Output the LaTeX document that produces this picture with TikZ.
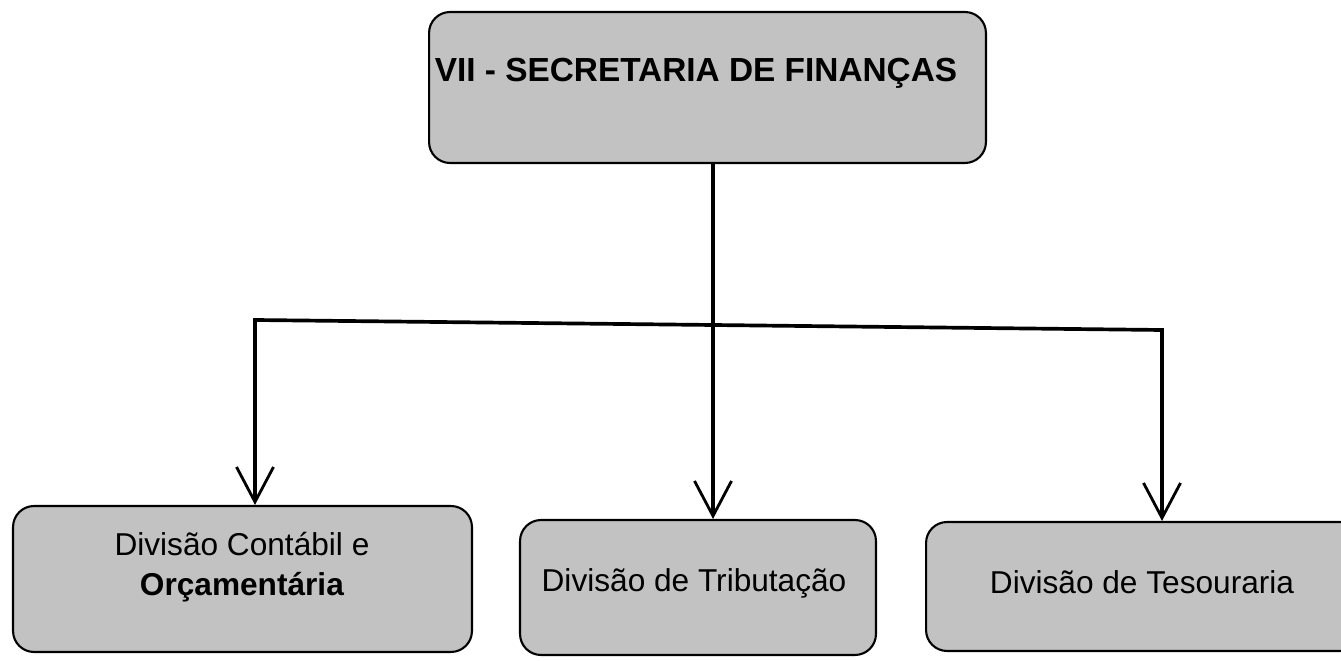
\documentclass[tikz,border=0pt]{standalone}
\usepackage{fontspec}
\setmainfont{Liberation Sans}
\usetikzlibrary{arrows.meta}
\definecolor{boxgray}{rgb}{0.76,0.76,0.76}
\tikzset{
  orgbox/.style={draw=black, line width=1.2pt, fill=boxgray, rounded corners=0.42cm, inner sep=0pt},
  conn/.style={line width=2.1pt, draw=black},
  arr/.style={conn, -{Straight Barb[length=0.7cm, width=0.74cm, line width=1.6pt]}},
  lbl/.style={font=\fontsize{18}{22.7}\selectfont, align=center, inner sep=0pt}
}
\begin{document}
\begin{tikzpicture}[x=0.02cm, y=-0.02cm]
\useasboundingbox (0,0) rectangle (1341,661);
% top box
\node[orgbox, minimum width=11.14cm, minimum height=3.02cm] (top) at (707.5,87.5) {};
\node[font=\bfseries\fontsize{19}{23}\selectfont, inner sep=0pt] (toptext) at (696,73) {VII - SECRETARIA DE FINANÇAS};
% bottom boxes
\node[orgbox, minimum width=9.18cm, minimum height=2.92cm] (left) at (242.5,579) {};
\node[lbl] (lefttext) at (242,567) {Divisão Contábil e\\\textbf{Orçamentária}};
\node[orgbox, minimum width=7.12cm, minimum height=2.7cm] (mid) at (698,587.5) {};
\node[lbl] (midtext) at (694,583) {Divisão de Tributação};
\node[orgbox, minimum width=8.7cm, minimum height=2.58cm] (right) at (1143.5,586.5) {};
\node[lbl] (righttext) at (1142,582) {Divisão de Tesouraria};
% connectors
\coordinate (j) at (713,325);
\coordinate (lc) at (255,320);
\coordinate (rc) at (1162,330);
\draw[arr] (top.south -| j) -- (j) -- (mid.north -| j);
\draw[arr] (j) -- (lc) -- (lc |- left.north);
\draw[arr] (j) -- (rc) -- (rc |- right.north);
\end{tikzpicture}
\end{document}
